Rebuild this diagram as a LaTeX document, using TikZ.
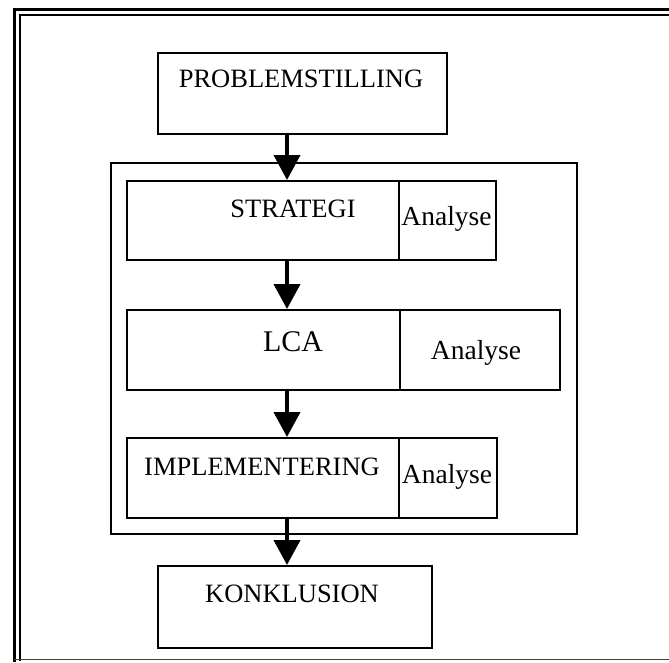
\documentclass[tikz,border=0pt]{standalone}
\usepackage{fontspec}
\setmainfont{Liberation Serif}
\usetikzlibrary{arrows.meta}

\tikzset{
  stage/.style={draw, line width=2.2pt, rectangle, inner sep=0pt, anchor=north west},
  txt/.style={inner sep=0pt, font=\fontsize{26.5}{30}\selectfont},
  flow/.style={line width=4pt, -{Triangle[width=26pt,length=25pt]}},
  frame/.style={line cap=rect}
}

\begin{document}
\begin{tikzpicture}[x=1pt,y=-1pt]
  \useasboundingbox (0,0) rectangle (669,662);

  % page frame: double rule on the top and left edges, thin rule at the bottom
  \draw[frame, line width=3pt] (669,9) -- (14,9) -- (14,660);
  \draw[frame, line width=1.8pt] (669,15) -- (20,15) -- (20,660);
  \draw[line width=1.2pt, black!75] (14,659.5) -- (669,659.5);

  % axis of the vertical flow
  \coordinate (axis) at (287,0);

  % start box
  \node[stage, minimum width=289pt, minimum height=81pt] (prob) at (157,52) {};
  \node[txt] (probtxt) at (301,79) {PROBLEMSTILLING};

  % container of the three phases
  \node[stage, minimum width=466pt, minimum height=371pt] (phases) at (110,162) {};

  % phase 1
  \node[stage, minimum width=272pt, minimum height=79pt] (strat) at (126,180) {};
  \node[stage, minimum width=97pt, minimum height=79pt] (stratan) at (398,180) {};
  \node[txt] (strattxt) at (293,209) {STRATEGI};
  \node[txt, font=\fontsize{27.5}{31}\selectfont] (stratantxt) at (446.5,219) {Analyse};

  % phase 2
  \node[stage, minimum width=273pt, minimum height=80pt] (lca) at (126,309) {};
  \node[stage, minimum width=160pt, minimum height=80pt] (lcaan) at (399,309) {};
  \node[txt, font=\fontsize{30}{34}\selectfont] (lcatxt) at (293,342) {LCA};
  \node[txt, font=\fontsize{27.5}{31}\selectfont] (lcaantxt) at (476,353) {Analyse};

  % phase 3
  \node[stage, minimum width=272pt, minimum height=80pt] (impl) at (126,437) {};
  \node[stage, minimum width=98pt, minimum height=80pt] (implan) at (398,437) {};
  \node[txt] (impltxt) at (262,467) {IMPLEMENTERING};
  \node[txt, font=\fontsize{27.5}{31}\selectfont] (implantxt) at (447,477) {Analyse};

  % end box
  \node[stage, minimum width=274pt, minimum height=82pt] (konk) at (157,565) {};
  \node[txt] (konktxt) at (292,594) {KONKLUSION};

  % flow arrows
  \draw[flow] (prob.south -| axis) -- (strat.north -| axis);
  \draw[flow] (strat.south -| axis) -- (lca.north -| axis);
  \draw[flow] (lca.south -| axis) -- (impl.north -| axis);
  \draw[flow] (impl.south -| axis) -- (konk.north -| axis);
\end{tikzpicture}
\end{document}
